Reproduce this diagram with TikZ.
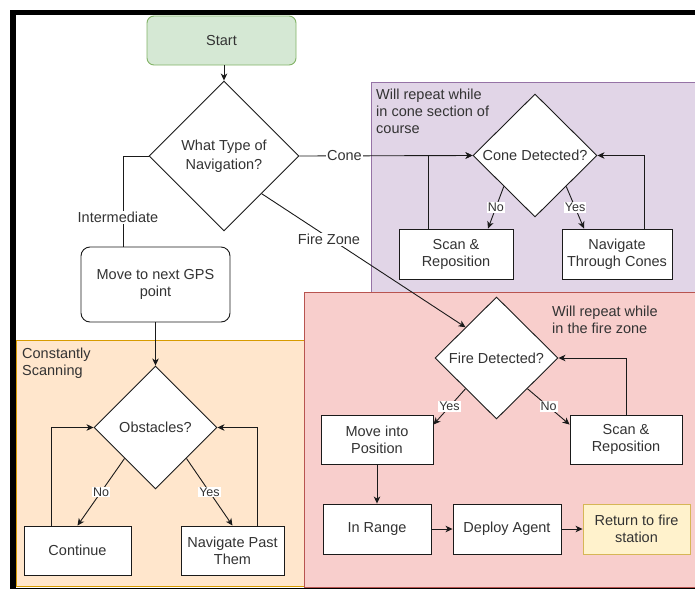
\documentclass[tikz,border=0pt]{standalone}
\usepackage{fontspec}
\setmainfont{Liberation Sans}
\usetikzlibrary{shapes.geometric,arrows.meta}
\definecolor{txt}{HTML}{333333}
\definecolor{ln}{HTML}{1A1A1A}
\definecolor{greenF}{HTML}{D5E8D4}\definecolor{greenD}{HTML}{82B366}
\definecolor{orangeF}{HTML}{FFE6CC}\definecolor{orangeD}{HTML}{D79B00}
\definecolor{purpleF}{HTML}{E1D5E7}\definecolor{purpleD}{HTML}{9673A6}
\definecolor{redF}{HTML}{F8CECC}\definecolor{redD}{HTML}{B85450}
\definecolor{yellowF}{HTML}{FFF2CC}\definecolor{yellowD}{HTML}{D6B656}
\begin{document}
\begin{tikzpicture}[x=1pt,y=-1pt,
  every node/.style={text=txt,font=\fontsize{14.5}{17}\selectfont,align=center},
  stepbox/.style={draw=ln,line width=0.9pt,fill=white,inner sep=0pt},
  roundbox/.style={stepbox,rounded corners=9pt},
  decision/.style={draw=ln,line width=0.9pt,fill=white,diamond,inner sep=0pt},
  note/.style={align=left,inner sep=0pt,anchor=west},
  arr/.style={draw=ln,line width=0.9pt,-{Stealth[length=7pt,width=6.5pt,inset=2pt]}},
  con/.style={draw=ln,line width=0.9pt},
  lbl/.style={fill=white,inner sep=1pt},
  yn/.style={fill=white,inner sep=1pt,font=\fontsize{12.5}{14}\selectfont}]

\useasboundingbox (0,0) rectangle (695,589);
\fill[white] (0,0) rectangle (695,589);

% swimlane-like containers
\filldraw[fill=orangeF,draw=orangeD,line width=1pt] (16,340) rectangle (304,586);
\filldraw[fill=purpleF,draw=purpleD,line width=1pt] (371,82) rectangle (697,292);
\filldraw[fill=redF,draw=redD,line width=1pt] (304,292) rectangle (697,587);

% outer frame
\fill[black] (10,10) rectangle (695,15);
\fill[black] (10,10) rectangle (16,589);
\fill[black] (10,587.5) rectangle (695,589);

% container captions
\node[note] (capscan) at (22,363.5) {Constantly\\Scanning};
\node[note] (capcone) at (376,111) {Will repeat while\\in cone section of\\course};
\node[note] (capfire) at (552,319.5) {Will repeat while\\in the fire zone};

% nodes
\node[roundbox,fill=greenF,draw=greenD,rounded corners=7pt,minimum width=149pt,minimum height=49pt] (start) at (221.5,40.5) {Start};
\node[decision,minimum width=150pt,minimum height=150pt] (nav) at (224,156) {What Type of\\[2pt]Navigation?};
\node[roundbox,minimum width=149pt,minimum height=75pt] (move) at (155.5,284.5) {Move to next GPS\\point};
\node[decision,minimum width=123pt,minimum height=123pt] (obst) at (155.5,427.5) {Obstacles?};
\node[stepbox,minimum width=107pt,minimum height=49pt] (cont) at (77.5,550.5) {Continue};
\node[stepbox,minimum width=103pt,minimum height=49pt] (navp) at (232.5,550.5) {Navigate Past\\Them};

\node[decision,minimum width=124pt,minimum height=123pt] (coned) at (535,155.5) {Cone Detected?};
\node[stepbox,minimum width=114pt,minimum height=50pt] (scanc) at (456,254) {Scan \&\\Reposition};
\node[stepbox,minimum width=110pt,minimum height=50pt] (navc) at (617,254) {Navigate\\Through Cones};

\node[decision,minimum width=123pt,minimum height=122pt] (fired) at (496.5,358) {Fire Detected?};
\node[stepbox,minimum width=112pt,minimum height=49pt] (movep) at (377,439.5) {Move into\\Position};
\node[stepbox,minimum width=112pt,minimum height=49pt] (scanf) at (626,439.5) {Scan \&\\Reposition};
\node[stepbox,minimum width=108pt,minimum height=50pt] (inrange) at (377,529) {In Range};
\node[stepbox,minimum width=108pt,minimum height=50pt] (deploy) at (507,529) {Deploy Agent};
\node[stepbox,fill=yellowF,draw=yellowD,minimum width=107pt,minimum height=50pt] (ret) at (636.5,529) {Return to fire\\station};

% connectors
\draw[arr] (start.south -| nav.north) -- (nav.north);
\draw[arr] (nav.east) -- node[lbl,pos=0.26]{Cone} (coned.west);
\draw[con] (nav.west) -| node[lbl,pos=0.84,xshift=-5pt]{Intermediate} ([xshift=-32.5pt]move.north);
\draw[arr] (nav.south east) -- node[lbl,pos=0.33,yshift=-2pt]{Fire Zone} (fired.north west);

\draw[arr] (move.south) -- (obst.north);
\draw[arr] (obst.south west) -- node[yn]{No} (cont.north);
\draw[arr] (obst.south east) -- node[yn]{Yes} (navp.north);
\draw[arr] ([xshift=-26.5pt]cont.north) |- (obst.west);
\draw[arr] ([xshift=24.5pt]navp.north) |- (obst.east);

\draw[arr] (coned.south west) -- node[yn]{No} ([xshift=32pt]scanc.north);
\draw[arr] (coned.south east) -- node[yn]{Yes} ([xshift=-33pt]navc.north);
\draw[arr] ([xshift=-28pt]scanc.north) |- (coned.west);
\draw[arr] ([xshift=27pt]navc.north) |- (coned.east);

\draw[arr] (fired.south west) -- node[yn]{Yes} ([yshift=-10pt]movep.north east);
\draw[arr] (fired.south east) -- node[yn]{No} ([yshift=-10pt]scanf.north west);
\draw[arr] (scanf.north) |- (fired.east);
\draw[arr] (movep.south) -- (inrange.north);
\draw[arr] (inrange.east) -- (deploy.west);
\draw[arr] (deploy.east) -- (ret.west);
\end{tikzpicture}
\end{document}
